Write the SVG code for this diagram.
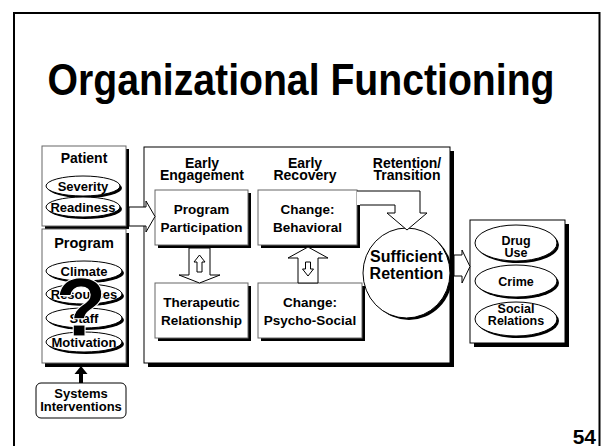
<svg xmlns="http://www.w3.org/2000/svg" width="602" height="446" viewBox="0 0 602 446">
<style>
text{font-family:"Liberation Sans",Arial,Helvetica,sans-serif;font-weight:bold;fill:#000;text-anchor:middle}
.box{fill:#fff;stroke:#666;stroke-width:1}
.mbox{fill:#fff;stroke:#000;stroke-width:1}
.sh{fill:#000}
.el{fill:#fff;stroke:#000;stroke-width:1}
.hol{fill:#fff;stroke:#000;stroke-width:1;stroke-linejoin:miter}
.f13{font-size:13px}
.f135{font-size:13.5px}
.f14{font-size:14px}
</style>
<rect width="602" height="446" fill="#fff"/>
<path d="M14,446 V13 H599.5 V446" fill="none" stroke="#000" stroke-width="2"/>
<text x="301" y="95" font-size="44" textLength="507" lengthAdjust="spacingAndGlyphs">Organizational Functioning</text>

<g id="main">
<rect class="sh" x="148" y="151" width="306" height="216"/>
<rect class="mbox" x="144" y="147" width="306" height="216"/>
<text class="f14" x="202" y="168">Early</text>
<text class="f14" x="202" y="180">Engagement</text>
<text class="f14" x="305" y="168">Early</text>
<text class="f14" x="305" y="180">Recovery</text>
<text class="f14" x="407" y="168">Retention/</text>
<text class="f14" x="407" y="180">Transition</text>
</g>

<g id="patient">
<rect class="sh" x="45" y="149" width="84" height="80"/>
<rect class="box" x="42" y="146" width="84" height="80"/>
<text x="84" y="163" font-size="14">Patient</text>
<ellipse class="sh" cx="85" cy="188" rx="37" ry="10"/>
<ellipse class="el" cx="83" cy="186" rx="37" ry="10"/>
<text class="f13" x="83" y="190.5">Severity</text>
<ellipse class="sh" cx="85" cy="209" rx="37" ry="10"/>
<ellipse class="el" cx="83" cy="207" rx="37" ry="10"/>
<text class="f13" x="83" y="211.5">Readiness</text>
</g>

<g id="program">
<rect class="sh" x="45" y="233" width="84" height="134"/>
<rect class="box" x="42" y="229" width="84" height="134"/>
<text x="84" y="248" font-size="14.5">Program</text>
<ellipse class="sh" cx="86" cy="273" rx="38" ry="10"/>
<ellipse class="el" cx="84" cy="271" rx="38" ry="10"/>
<text class="f13" x="84" y="275.5">Climate</text>
<ellipse class="sh" cx="86" cy="296" rx="38" ry="10"/>
<ellipse class="el" cx="84" cy="294" rx="38" ry="10"/>
<text class="f13" x="84" y="298.5">Resources</text>
<ellipse class="sh" cx="86" cy="320" rx="38" ry="10"/>
<ellipse class="el" cx="84" cy="318" rx="38" ry="10"/>
<text class="f13" x="84" y="322.5">Staff</text>
<ellipse class="sh" cx="86" cy="344" rx="38" ry="10"/>
<ellipse class="el" cx="84" cy="342" rx="38" ry="10"/>
<text class="f13" x="84" y="346.5">Motivation</text>
<text x="81" y="336" font-size="84" stroke="#fff" stroke-width="1">?</text>
</g>

<g id="systems">
<rect x="36" y="383" width="90" height="35" rx="5" fill="#fff" stroke="#000" stroke-width="1"/>
<text class="f13" x="81" y="398">Systems</text>
<text class="f13" x="81" y="411">Interventions</text>
</g>

<g id="participation">
<rect class="sh" x="158" y="193" width="93" height="55"/>
<rect class="box" x="155" y="190" width="93" height="55"/>
<text class="f135" x="201.5" y="214">Program</text>
<text class="f135" x="201.5" y="232">Participation</text>
</g>

<g id="behavioral">
<rect class="sh" x="261" y="193" width="99" height="55"/>
<rect class="box" x="258" y="190" width="99" height="55"/>
<text class="f135" x="307.5" y="214">Change:</text>
<text class="f135" x="307.5" y="232">Behavioral</text>
</g>

<g id="therapeutic">
<rect class="sh" x="158" y="286" width="93" height="55"/>
<rect class="box" x="155" y="283" width="93" height="55"/>
<text class="f135" x="201.5" y="307">Therapeutic</text>
<text class="f135" x="201.5" y="325">Relationship</text>
</g>

<g id="psychosocial">
<rect class="sh" x="261" y="286" width="104" height="55"/>
<rect class="box" x="258" y="283" width="104" height="55"/>
<text class="f135" x="310" y="307">Change:</text>
<text class="f135" x="310" y="325">Psycho-Social</text>
</g>

<g id="retention">
<ellipse class="sh" cx="409" cy="275" rx="43.5" ry="45"/>
<ellipse class="el" cx="406.5" cy="273" rx="43.5" ry="45"/>
<text x="406.5" y="262" font-size="16">Sufficient</text>
<text x="406.5" y="279" font-size="16">Retention</text>
</g>

<g id="outcomes">
<rect class="sh" x="474" y="224" width="95" height="123"/>
<rect class="mbox" x="470" y="220" width="95" height="123"/>
<ellipse class="sh" cx="518" cy="245" rx="41" ry="18"/>
<ellipse class="el" cx="516" cy="243" rx="41" ry="18"/>
<text x="516" y="245" font-size="12.5">Drug</text>
<text x="516" y="257" font-size="12.5">Use</text>
<ellipse class="sh" cx="518" cy="283" rx="41" ry="16"/>
<ellipse class="el" cx="516" cy="281" rx="41" ry="16"/>
<text x="516" y="286" font-size="12.5">Crime</text>
<ellipse class="sh" cx="518" cy="321" rx="41" ry="17"/>
<ellipse class="el" cx="516" cy="319" rx="41" ry="17"/>
<text x="516" y="313" font-size="12.5">Social</text>
<text x="516" y="325" font-size="12.5">Relations</text>
</g>

<g id="connectors">
<polygon class="hol" points="129,207 146,207 146,201 155,216.5 146,232 146,226 129,226"/>
<polygon class="hol" points="189,248 210,248 210,275 220,275 199.5,283 179,275 189,275"/>
<polygon class="hol" points="199.5,255 205,262 202,262 202,272 197,272 197,262 194,262"/>
<polygon class="hol" points="308,247 328,258 318,258 318,283 298,283 298,258 288,258"/>
<polygon class="hol" points="305.5,262 310.5,262 310.5,269 313.5,269 308,276 302.5,269 305.5,269"/>
<polygon points="357,191 420,191 420,213 427,213 407,230 387,213 395,213 395,205 357,205" fill="#fff"/>
<polyline class="hol" fill="none" points="357,191 420,191 420,213 427,213 407,230 387,213 395,213 395,205 360,205"/>
<polygon class="hol" points="454,255 462,255 462,250 470,266.5 462,283 462,276 454,276"/>
<rect x="79" y="373" width="4" height="10" fill="#000"/>
<polygon points="81,366 87.5,374 74.5,374" fill="#000"/>
</g>

<text x="596" y="444" font-size="21" style="text-anchor:end">54</text>
</svg>
